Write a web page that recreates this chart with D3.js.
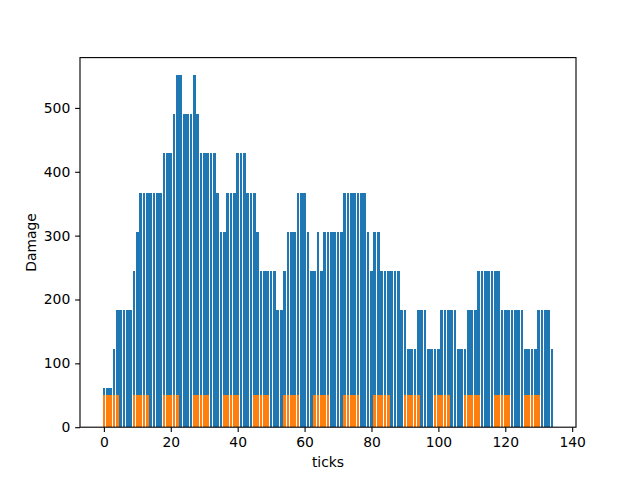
<!DOCTYPE html>
<html>
<head>
<meta charset="utf-8">
<script src="https://cdn.jsdelivr.net/npm/d3@7"></script>
<style>
  body { margin: 0; background: #fff; }
  text { font-family: "DejaVu Sans", sans-serif; }
</style>
</head>
<body>
<svg id="chart" width="640" height="480"></svg>
<script>
// Blue series: damage per tick (0..134)
const blueTicks = d3.range(0, 135);
const blueDamage = [
  61.25, 61.25, 61.25, 122.5, 183.75, 183.75, 183.75, 183.75, 183.75, 245,
  306.25, 367.5, 367.5, 367.5, 367.5, 367.5, 367.5, 367.5, 428.75, 428.75,
  428.75, 490, 551.25, 551.25, 490, 490, 490, 551.25, 490, 428.75,
  428.75, 428.75, 428.75, 428.75, 367.5, 306.25, 306.25, 367.5, 367.5, 367.5,
  428.75, 428.75, 428.75, 367.5, 367.5, 367.5, 306.25, 245, 245, 245,
  245, 245, 183.75, 183.75, 245, 306.25, 306.25, 306.25, 367.5, 367.5,
  367.5, 306.25, 245, 245, 306.25, 245, 306.25, 306.25, 306.25, 306.25,
  306.25, 306.25, 367.5, 367.5, 367.5, 367.5, 367.5, 367.5, 367.5, 306.25,
  245, 306.25, 306.25, 245, 245, 245, 245, 245, 245, 183.75,
  183.75, 122.5, 122.5, 122.5, 183.75, 183.75, 183.75, 122.5, 122.5, 122.5,
  122.5, 183.75, 183.75, 183.75, 183.75, 183.75, 122.5, 122.5, 122.5, 183.75,
  183.75, 183.75, 245, 245, 245, 245, 245, 245, 245, 183.75,
  183.75, 183.75, 183.75, 183.75, 183.75, 183.75, 122.5, 122.5, 122.5, 122.5,
  183.75, 183.75, 183.75, 183.75, 122.5
];

// Orange series: ticks and damage
const orangeTicks = [
  0, 1, 2, 3, 4, 9, 10, 11, 12, 13, 18, 19, 20, 21, 22,
  27, 28, 29, 30, 31, 36, 37, 38, 39, 40, 45, 46, 47, 48, 49,
  54, 55, 56, 57, 58, 63, 64, 65, 66, 67, 72, 73, 74, 75, 76,
  81, 82, 83, 84, 85, 90, 91, 92, 93, 94, 99, 100, 101, 102, 103,
  108, 109, 110, 111, 112, 117, 118, 119, 120, 121, 126, 127, 128, 129, 130
];
const orangeDamage = [
  50, 50, 50, 50, 50, 50, 50, 50, 50, 50, 50, 50, 50, 50, 50,
  50, 50, 50, 50, 50, 50, 50, 50, 50, 50, 50, 50, 50, 50, 50,
  50, 50, 50, 50, 50, 50, 50, 50, 50, 50, 50, 50, 50, 50, 50,
  50, 50, 50, 50, 50, 50, 50, 50, 50, 50, 50, 50, 50, 50, 50,
  50, 50, 50, 50, 50, 50, 50, 50, 50, 50, 50, 50, 50, 50, 50
];

const xTickValues = [0, 20, 40, 60, 80, 100, 120, 140];
const yTickValues = [0, 100, 200, 300, 400, 500];
const xLabel = "ticks";
const yLabel = "Damage";

(function () {
const W = 640, H = 480;
const mLeft = 80, mRight = 576, mTop = 57.6, mBottom = 427.2;
const barW = 0.8;

const xmin = d3.min(blueTicks) - barW / 2, xmax = d3.max(blueTicks) + barW / 2;
const xpad = (xmax - xmin) * 0.05;
const x = d3.scaleLinear().domain([xmin - xpad, xmax + xpad]).range([mLeft, mRight]);
const ymax = d3.max(blueDamage.concat(orangeDamage));
const y = d3.scaleLinear().domain([0, ymax * 1.05]).range([mBottom, mTop]);

const svg = d3.select("#chart");
svg.append("rect").attr("width", W).attr("height", H).attr("fill", "#fff");

const blue = blueTicks.map((t, i) => ({ t, v: blueDamage[i] }));
const orange = orangeTicks.map((t, i) => ({ t, v: orangeDamage[i] }));

// pixel-snapped bar edges (like matplotlib's snapping)
const x0 = d => Math.round(x(d.t - barW / 2));
const x1 = d => Math.round(x(d.t + barW / 2));
const yb = Math.round(y(0));

function drawBars(data, color) {
  svg.append("g").attr("shape-rendering", "crispEdges")
    .selectAll("rect").data(data).join("rect")
    .attr("x", x0)
    .attr("width", d => x1(d) - x0(d))
    .attr("y", d => Math.round(y(d.v)))
    .attr("height", d => yb - Math.round(y(d.v)))
    .attr("fill", color);
}
drawBars(blue, "#1f77b4");
drawBars(orange, "#ff7f0e");

const fs = "13.9px";
const tl = 4.86;

const xAxis = svg.append("g").attr("transform", `translate(0,${mBottom})`)
  .call(d3.axisBottom(x).tickValues(xTickValues).tickFormat(d3.format("d"))
    .tickSize(tl).tickPadding(4.86).tickSizeOuter(0));
const yAxis = svg.append("g").attr("transform", `translate(${mLeft},0)`)
  .call(d3.axisLeft(y).tickValues(yTickValues).tickFormat(d3.format("d"))
    .tickSize(tl).tickPadding(4.86).tickSizeOuter(0));

[xAxis, yAxis].forEach(a => {
  a.select(".domain").remove();
  a.selectAll(".tick line").attr("stroke", "#000").attr("stroke-width", 1.11);
  a.selectAll(".tick text").attr("fill", "#000").style("font-size", fs)
    .style("font-family", "'DejaVu Sans', sans-serif");
});

// spines
svg.append("rect")
  .attr("x", mLeft).attr("y", mTop)
  .attr("width", mRight - mLeft).attr("height", mBottom - mTop)
  .attr("fill", "none").attr("stroke", "#000").attr("stroke-width", 1.11);

svg.append("text")
  .attr("x", (mLeft + mRight) / 2).attr("y", 462)
  .attr("text-anchor", "middle").attr("dy", "0.35em")
  .style("font-size", fs).text(xLabel);

svg.append("text")
  .attr("transform", `translate(31,${(mTop + mBottom) / 2}) rotate(-90)`)
  .attr("text-anchor", "middle").attr("dy", "0.35em")
  .style("font-size", fs).text(yLabel);
})();
</script>
</body>
</html>
